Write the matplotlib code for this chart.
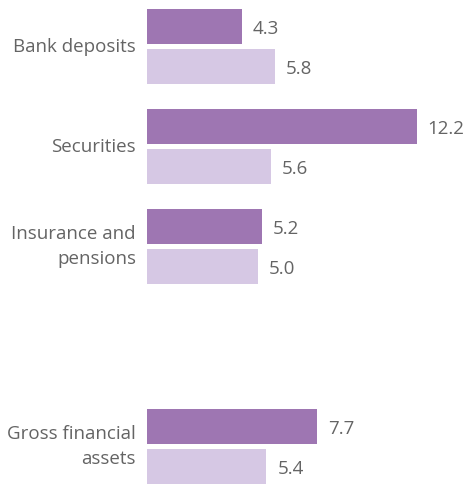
import matplotlib
matplotlib.use("Agg")
import matplotlib.pyplot as plt

# Data
categories = ["Bank deposits", "Securities", "Insurance and\npensions", "Gross financial\nassets"]
positions = [0, 1, 2, 4]  # empty slot between pensions and gross assets
series_dark = [4.3, 12.2, 5.2, 7.7]
series_light = [5.8, 5.6, 5.0, 5.4]

dark = "#9e76b2"
light = "#d6c8e4"
text_col = "#646464"

plt.rcParams['font.family'] = ['Open Sans', 'DejaVu Sans']

fig = plt.figure(figsize=(4.70, 4.84), dpi=100)
ax = fig.add_axes([147 / 470, 0, 1 - 147 / 470, 1])

h = 0.35
off = 0.2
ax.barh([p - off for p in positions], series_dark, height=h, color=dark)
ax.barh([p + off for p in positions], series_light, height=h, color=light)

# value labels
for p, v in zip(positions, series_dark):
	ax.text(v + 0.5, p - off + 0.02, f"{v:.1f}", va="center", ha="left", fontsize=13.5, color=text_col)
for p, v in zip(positions, series_light):
	ax.text(v + 0.5, p + off + 0.02, f"{v:.1f}", va="center", ha="left", fontsize=13.5, color=text_col)

# category labels
for p, c in zip(positions, categories):
	ax.text(-0.5, p, c, va="center", ha="right", fontsize=13.5, color=text_col, linespacing=1.45)

ax.set_xlim(0, 323 / 22.1)
ax.set_ylim(4.84 - 0.465, -0.465)
ax.axis("off")

fig.savefig("out.png", dpi=100)
